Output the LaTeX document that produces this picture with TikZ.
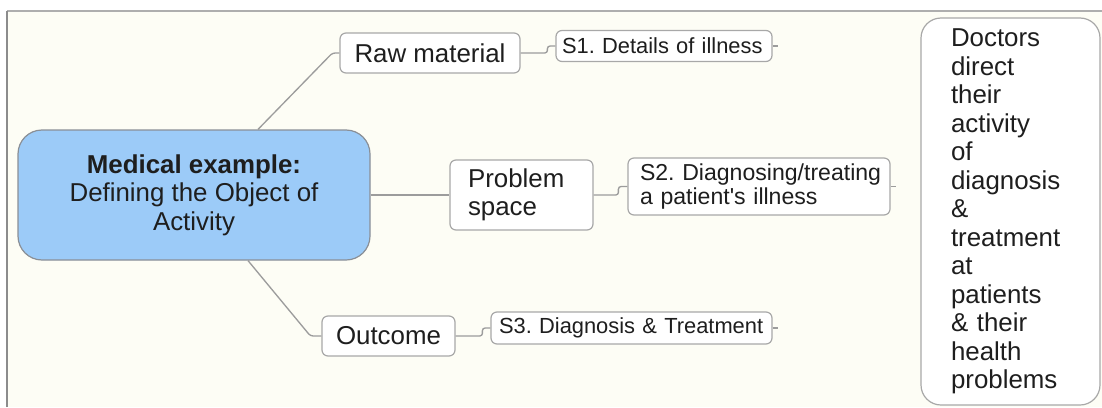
\documentclass[tikz,border=0pt]{standalone}
\usepackage{fontspec}
\setmainfont{Liberation Sans}
\usetikzlibrary{calc}
\frenchspacing
\definecolor{paper}{HTML}{FDFDF5}
\definecolor{frameline}{HTML}{8C8C8C}
\definecolor{linkgray}{HTML}{9C9C9C}
\definecolor{boxedge}{HTML}{A8A8A8}
\definecolor{hubblue}{HTML}{9CCBF8}
\definecolor{hubedge}{HTML}{8A8F96}
\definecolor{inktext}{HTML}{1E1E1E}
\begin{document}
\begin{tikzpicture}[x=0.75pt,y=-0.75pt,
  bigtext/.style={font=\fontsize{19.4}{21.4}\selectfont},
  smalltext/.style={font=\fontsize{16.4}{17.6}\selectfont},
  midtext/.style={font=\fontsize{17.3}{18.2}\selectfont},
  box/.style={draw=boxedge, line width=0.9pt, fill=white, rounded corners=4.5pt,
    inner sep=0pt, text=inktext},
  link/.style={draw=linkgray, line width=1pt, rounded corners=2pt}]
\useasboundingbox (0,0) rectangle (1102,407);
% sheet and its frame
\fill[white] (0,0) rectangle (1102,407);
\fill[paper] (7,11) rectangle (1102,407);
\draw[frameline!70, line width=0.9pt] (7,11) -- (1102,11);
\draw[frameline, line width=1.4pt] (7,407) -- (7,11);

% central topic
\node[box, bigtext, fill=hubblue, draw=hubedge, rounded corners=18pt,
  minimum width=264pt, minimum height=97.5pt, align=center] (hub) at (194,195)
  {\textbf{Medical example:}\\Defining the Object of\\Activity};

% main branches
\node[box, bigtext, minimum width=135pt, minimum height=30pt] (raw) at (430,53) {Raw material};
\node[box, bigtext, minimum height=52.5pt, inner xsep=13.5pt, text width=80.25pt, align=left]
  (prob) at (521.5,195) {Problem\\space};
\node[box, bigtext, minimum width=99.75pt, minimum height=30pt] (out) at (388.5,336) {Outcome};

% sub-topics (left-aligned labels, never wrapped)
\node[box, smalltext, minimum height=23.25pt, inner xsep=4.5pt, text width=153pt, align=left]
  (s1) at (664,46) {\mbox{S1. Details of illness}};
\node[box, midtext, minimum height=42.75pt, inner xsep=9pt, text width=178.5pt, align=left]
  (s2) at (759,186.5) {\mbox{S2. Diagnosing/treating}\\\mbox{a patient\textquotesingle s illness}};
\node[box, smalltext, minimum height=24pt, inner xsep=6pt, text width=198.75pt, align=left]
  (s3) at (631.5,328) {\mbox{S3. Diagnosis \& Treatment}};

% note box
\node[box, bigtext, rounded corners=15pt, minimum height=290.25pt, inner xsep=22.5pt,
  text width=89.25pt, align=left] (note) at (1010.5,211.5)
  {Doctors\\direct\\their\\activity\\of\\diagnosis\\\&\\treatment\\at\\patients\\\& their\\health\\problems};

% connectors
\draw[link] ($(hub.north)+(64,0)$) -- ($(raw.west)+(-7,0)$) -- (raw.west);
\draw[link] (hub.east) -- (prob.west);
\draw[link] ($(hub.south)+(54,0)$) -- ($(out.west)+(-11,0)$) -- (out.west);

\draw[link] (raw.east) -| ($(s1.west)+(-8,0)$) -- (s1.west);
\draw[link] (prob.east) -| ($(s2.west)+(-9,0)$) -- (s2.west);
\draw[link] (out.east) -| ($(s3.west)+(-8,0)$) -- (s3.west);

% open ends of the sub-topics
\coordinate (s1end) at ($(s1.east)+(5,0)$);
\coordinate (s2end) at ($(s2.east)+(5,0)$);
\coordinate (s3end) at ($(s3.east)+(5,0)$);
\draw[link] (s1.east) -- (s1end);
\draw[link] (s2.east) -- (s2end);
\draw[link] (s3.east) -- (s3end);
\end{tikzpicture}
\end{document}
